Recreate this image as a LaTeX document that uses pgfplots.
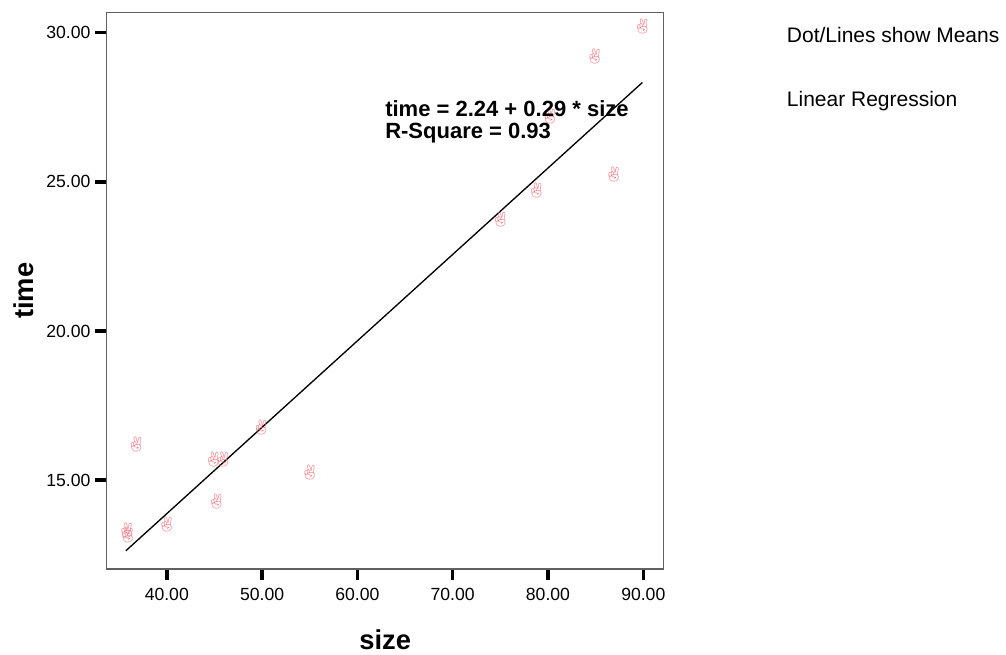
\documentclass[border=0pt]{standalone}
\usepackage{pgfplots}
\pgfplotsset{compat=1.18}
\usepackage{fontspec}
\setmainfont{Liberation Sans}
\newfontfamily\dingfont{Noto Emoji}
\definecolor{markpink}{RGB}{242,120,130}
\definecolor{framegray}{RGB}{96,96,96}

\begin{document}
\begin{tikzpicture}
% page size 1006x654 px at 0.75pt per px
\path[use as bounding box] (0,0) rectangle (754.5pt,490.5pt);

\begin{axis}[
    at={(80pt,63.75pt)}, anchor=south west,
    scale only axis,
    width=417.75pt, height=417.2pt,
    xmin=33.69, xmax=92.14,
    ymin=12.02, ymax=30.67,
    xtick={40,50,60,70,80,90},
    ytick={15,20,25,30},
    tick pos=left,
    tick align=outside,
    major tick length=8.5pt,
    tick style={black, line width=2.6pt},
    axis line style={framegray, line width=1.1pt},
    /pgf/number format/.cd, fixed, fixed zerofill, precision=2, assume math mode=true,
    /pgfplots/.cd,
    tick label style={font=\fontsize{13.2}{15}\selectfont},
    xticklabel style={inner sep=0pt, anchor=north, yshift=-6pt},
    yticklabel style={inner sep=0pt, anchor=east, xshift=-3.5pt},
    xlabel={\bfseries size},
    ylabel={\bfseries time},
    xlabel style={at={(axis description cs:0.5,0)}, anchor=base,
        yshift=-60.5pt, font=\fontsize{20.5}{24}\selectfont},
    ylabel style={at={([xshift=-55pt]axis description cs:0,0.5)}, anchor=base,
        font=\fontsize{20.5}{24}\selectfont},
    clip=false,
]

% regression line
\addplot[black, line width=1pt] coordinates {(35.7,12.63) (89.9,28.33)};

% group means
\addplot[only marks, mark=text, text mark={✌}, text mark as node=true,
    text mark style={font=\dingfont\fontsize{11}{11}\selectfont,
        text=markpink, inner sep=0pt}]
coordinates {
    (35.8,13.30) (35.9,13.15) (36.8,16.20) (40.0,13.50)
    (44.9,15.70) (45.9,15.70) (45.2,14.30) (49.9,16.75)
    (55.0,15.25) (75.0,23.75) (78.8,24.70) (80.2,27.20)
    (84.9,29.20) (86.9,25.25) (89.9,30.20)
};

\end{axis}

% fit annotation
\node[anchor=base west, inner sep=0pt, font=\bfseries\fontsize{16.5}{18}\selectfont]
    at (288.75pt,403pt) {time = 2.24 + 0.29 * size};
\node[anchor=base west, inner sep=0pt, font=\bfseries\fontsize{16.5}{18}\selectfont]
    at (288.75pt,386.8pt) {R-Square = 0.93};

% legend text
\node[anchor=base west, inner sep=0pt, font=\fontsize{15.75}{18}\selectfont]
    at (590pt,458.25pt) {Dot/Lines show Means};
\node[anchor=base west, inner sep=0pt, font=\fontsize{15.75}{18}\selectfont]
    at (590pt,410.5pt) {Linear Regression};
\end{tikzpicture}
\end{document}
